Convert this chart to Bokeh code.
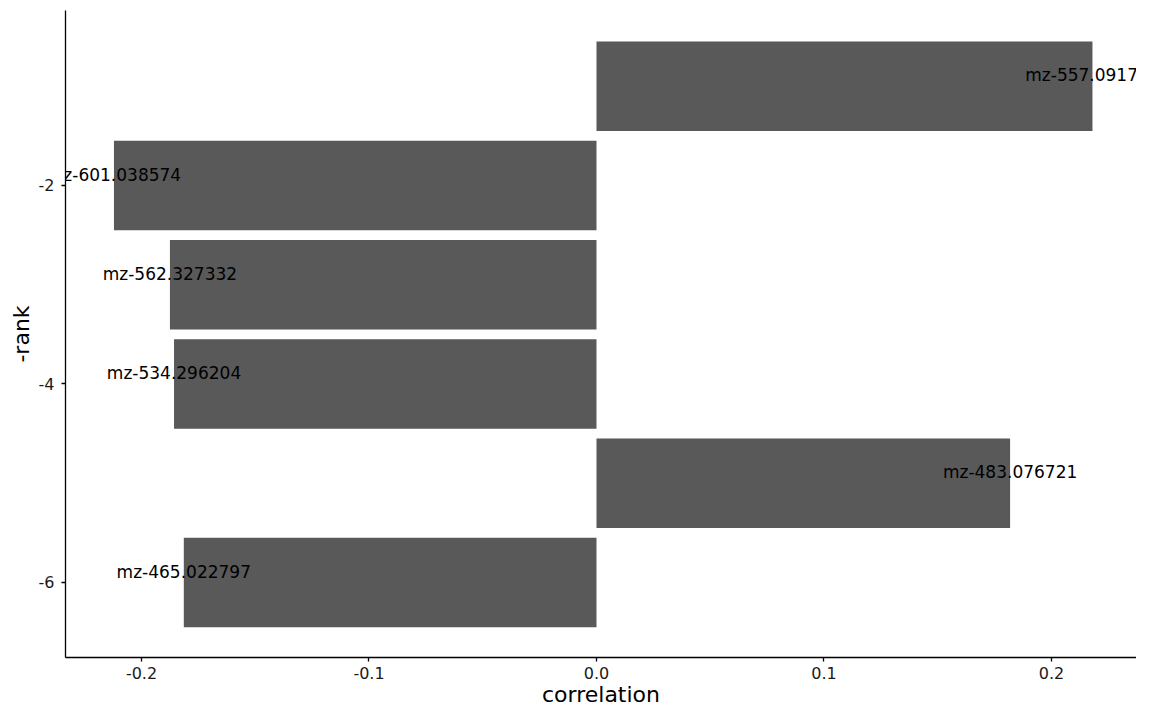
from bokeh.plotting import figure
from bokeh.models import ColumnDataSource, Range1d, FixedTicker
from bokeh.core.properties import value
from bokeh.embed import file_html
from bokeh.resources import INLINE

# data
ranks = [1, 2, 3, 4, 5, 6]
features = ["mz-557.091797", "mz-601.038574", "mz-562.327332",
            "mz-534.296204", "mz-483.076721", "mz-465.022797"]
correlation = [0.2180, -0.2121, -0.1875, -0.1857, 0.1818, -0.1814]
x_ticks = [-0.2, -0.1, 0.0, 0.1, 0.2]
x_tick_labels = ["-0.2", "-0.1", "0.0", "0.1", "0.2"]
y_ticks = [-6, -4, -2]
y_tick_labels = ["-6", "-4", "-2"]

neg_rank = [-r for r in ranks]
label_y = [v + 0.11 for v in neg_rank]
src = ColumnDataSource(dict(y=neg_rank, ly=label_y, x=correlation, lab=features))

FONT = "DejaVu Sans"

p = figure(frame_width=1071, frame_height=647, output_backend="svg", toolbar_location=None,
           x_range=Range1d(-0.2334, 0.23736), y_range=Range1d(-6.756, -0.237),
           min_border_left=65, min_border_right=0, min_border_top=10, min_border_bottom=47)
p.outline_line_color = None
p.grid.visible = False
p.background_fill_color = "white"
p.border_fill_color = "white"

p.hbar(y="y", left=0, right="x", height=0.9, source=src,
       fill_color="#595959", line_color=None)
p.text(x="x", y="ly", text="lab", source=src, text_align="center",
       text_baseline="middle", text_font=value(FONT), text_font_size="17px",
       text_color="black")

for ax in (p.xaxis[0], p.yaxis[0]):
    ax.axis_line_color = "black"
    ax.axis_line_width = 1.3
    ax.major_tick_line_color = "black"
    ax.major_tick_line_width = 1.3
    ax.major_tick_out = 4
    ax.major_tick_in = 0
    ax.minor_tick_out = 0
    ax.minor_tick_in = 0
    ax.major_label_text_font = FONT
    ax.major_label_text_font_size = "16px"
    ax.major_label_text_color = "#1a1a1a"
    ax.axis_label_text_font = FONT
    ax.axis_label_text_font_size = "22px"
    ax.axis_label_text_font_style = "normal"
    ax.axis_label_text_color = "black"

p.xaxis.ticker = FixedTicker(ticks=x_ticks)
p.xaxis.major_label_overrides = dict(zip(x_ticks, x_tick_labels))
p.xaxis.axis_label = "correlation"
p.xaxis.major_label_standoff = 5
p.xaxis.axis_label_standoff = 0

p.yaxis.ticker = FixedTicker(ticks=y_ticks)
p.yaxis.major_label_overrides = dict(zip(y_ticks, y_tick_labels))
p.yaxis.axis_label = "-rank"
p.yaxis.major_label_standoff = 7
p.yaxis.axis_label_standoff = 2

open("out.html", "w").write(file_html(p, INLINE))
